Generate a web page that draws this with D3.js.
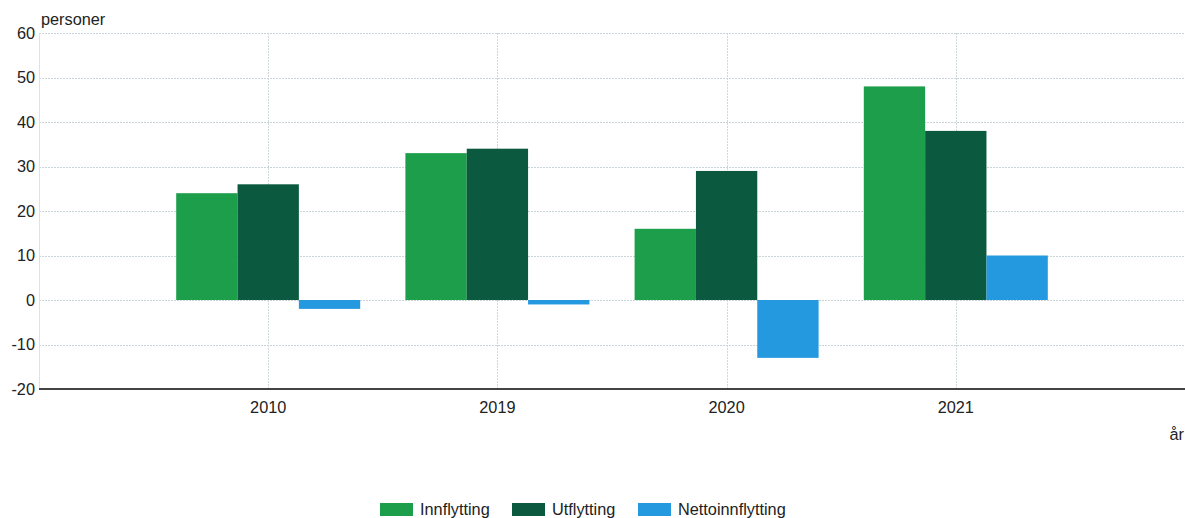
<!DOCTYPE html>
<html><head><meta charset="utf-8">
<script src="https://cdn.jsdelivr.net/npm/d3@7"></script>
<style>body{margin:0;background:#fff;font-family:"Liberation Sans",Arial,sans-serif;}</style>
</head><body><svg id="c" width="1185" height="518"></svg>
<script>
const categories = ["2010", "2019", "2020", "2021"];
const seriesNames = ["Innflytting", "Utflytting", "Nettoinnflytting"];
const innflytting = [24, 33, 16, 48];
const utflytting = [26, 34, 29, 38];
const nettoinnflytting = [-2, -1, -13, 10];
const yTicks = [-20, -10, 0, 10, 20, 30, 40, 50, 60];
const colors = ["#1c9e4a", "#0b5a40", "#2499e0"];

const values = [innflytting, utflytting, nettoinnflytting];
const svg = d3.select("#c");
const mLeft = 39, mRight = 1185, mTop = 33, mBottom = 389;
const fs = 16.3;
const x = d3.scalePoint().domain(categories).range([mLeft, mRight]).padding(1);
const y = d3.scaleLinear().domain([-20, 60]).range([mBottom, mTop]);
const groupW = 184;
const xs = d3.scaleBand().domain(seriesNames).range([-groupW/2, groupW/2]);

svg.append("g").selectAll("line").data(yTicks.filter(t => t > -20)).join("line")
  .attr("x1", mLeft).attr("x2", mRight)
  .attr("y1", d => Math.round(y(d)) + 0.5).attr("y2", d => Math.round(y(d)) + 0.5)
  .attr("stroke", "#c8d4d8").attr("stroke-dasharray", "2,1");
svg.append("g").selectAll("line").data(categories).join("line")
  .attr("x1", d => Math.round(x(d)) + 0.5).attr("x2", d => Math.round(x(d)) + 0.5)
  .attr("y1", mTop).attr("y2", mBottom)
  .attr("stroke", "#d0d8da").attr("stroke-dasharray", "2,1");
svg.append("line").attr("x1", mLeft + 0.5).attr("x2", mLeft + 0.5).attr("y1", mTop).attr("y2", mBottom)
  .attr("stroke", "#dde3e5");

seriesNames.forEach((s, i) => {
  svg.append("g").selectAll("rect").data(categories).join("rect")
    .attr("x", d => x(d) + xs(s))
    .attr("width", xs.bandwidth())
    .attr("y", (d, j) => y(Math.max(0, values[i][j])))
    .attr("height", (d, j) => Math.abs(y(values[i][j]) - y(0)))
    .attr("fill", colors[i]);
});

svg.append("line").attr("x1", mLeft).attr("x2", mRight).attr("y1", mBottom).attr("y2", mBottom)
  .attr("stroke", "#444").attr("stroke-width", 2);

svg.append("g").selectAll("text").data(yTicks).join("text")
  .attr("x", 35).attr("y", d => y(d) + 5.5).attr("text-anchor", "end")
  .attr("font-size", fs).attr("fill", "#222").text(d => d);
svg.append("g").selectAll("text").data(categories).join("text")
  .attr("x", d => x(d)).attr("y", 413).attr("text-anchor", "middle")
  .attr("font-size", fs).attr("fill", "#222").text(d => d);

svg.append("text").attr("x", 41).attr("y", 25).attr("font-size", fs).attr("fill", "#222").text("personer");
svg.append("text").attr("x", 1184).attr("y", 440).attr("text-anchor", "end").attr("font-size", fs).attr("fill", "#222").text("år");

const legX = [380, 512, 638];
seriesNames.forEach((s, i) => {
  svg.append("rect").attr("x", legX[i]).attr("y", 503).attr("width", 33).attr("height", 13).attr("fill", colors[i]);
  svg.append("text").attr("x", legX[i] + 40).attr("y", 515).attr("font-size", fs).attr("fill", "#222").text(s);
});
</script></body></html>
